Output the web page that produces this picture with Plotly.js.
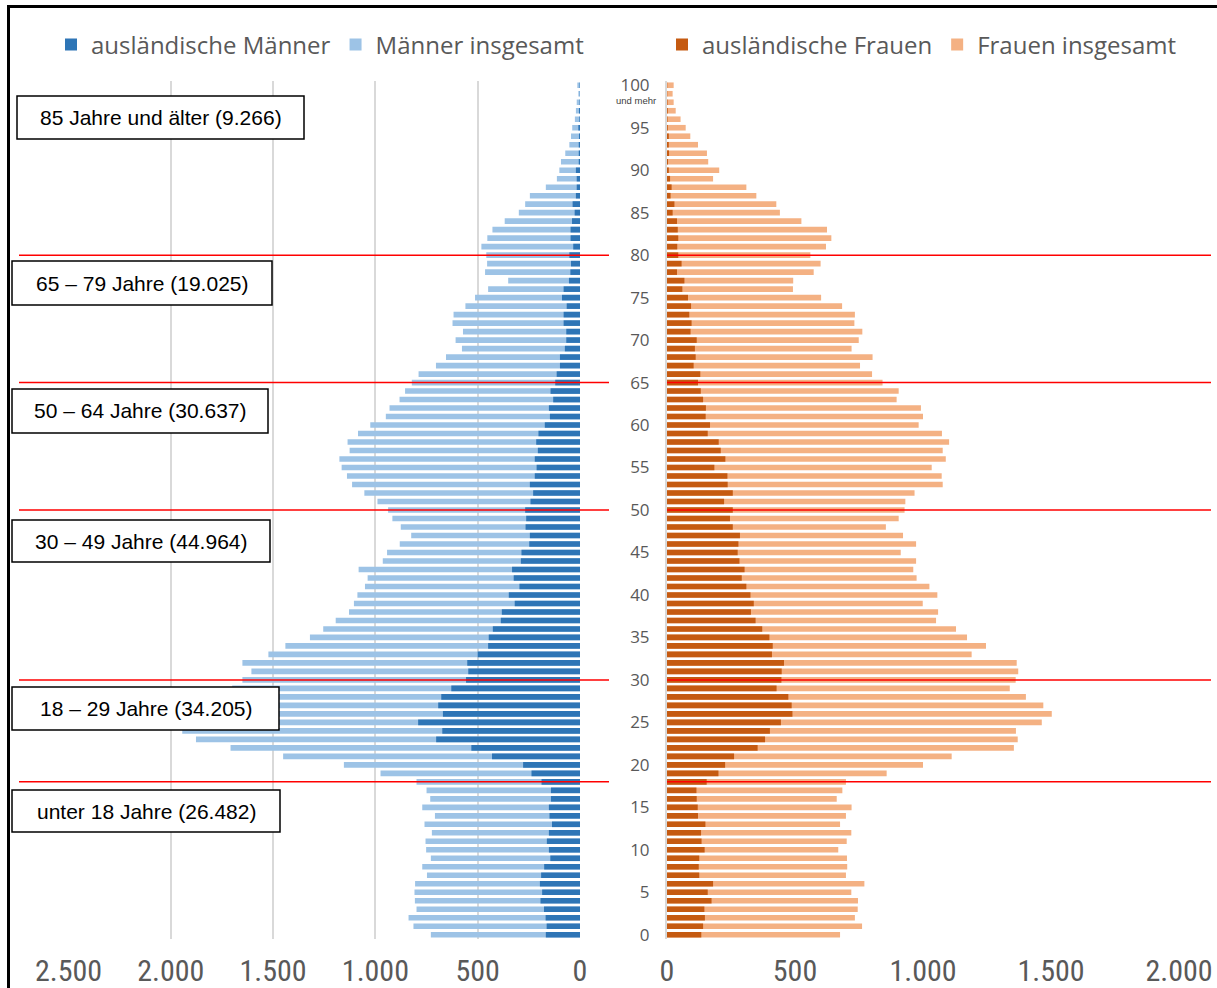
<!DOCTYPE html>
<html>
<head>
<meta charset="utf-8">
<script src="https://cdn.plot.ly/plotly-3.0.1.min.js"></script>
<style>html,body{margin:0;padding:0;background:#fff;} #chart{width:1217px;height:988px;}</style>
</head>
<body>
<div id="chart"></div>
<script>
// Ages 0 .. 100 (100 = "100 und mehr")
const ages = Array.from({length: 101}, (_, i) => i);

// Values indexed by age 0..100
const menTotal = [729,814,838,799,807,809,806,748,771,729,752,755,724,760,709,771,732,750,799,975,
  1154,1451,1708,1877,1944,1990,1990,1890,1790,1700,1650,1606,1650,1523,1440,1320,1255,1194,1129,1105,
  1088,1051,1038,1082,964,943,881,825,876,917,938,990,1054,1114,1139,1165,1176,1126,1136,1085,
  1025,949,931,882,855,822,789,704,655,577,608,572,623,618,560,513,449,351,464,454,
  458,482,453,428,368,299,268,245,167,113,101,93,72,52,44,38,25,20,16,8,13];
const menForeign = [167,163,168,176,193,185,196,190,175,145,152,162,152,137,149,152,142,142,188,237,
  278,430,531,703,673,791,670,693,678,629,557,546,551,500,449,446,426,387,382,319,
  348,296,324,332,289,286,248,245,266,263,268,242,229,245,221,212,221,206,214,203,
  172,147,152,131,144,121,114,98,98,74,67,67,80,80,65,88,80,54,47,44,
  52,33,46,46,39,26,36,20,16,16,20,6,6,6,5,8,3,5,2,1,2];
const womenTotal = [676,762,734,745,746,720,771,699,704,703,669,702,720,676,699,721,663,685,699,858,
  1000,1112,1355,1370,1363,1464,1503,1470,1402,1339,1362,1372,1366,1190,1246,1172,1129,1051,1059,999,
  1056,1025,975,962,973,913,973,922,855,905,928,931,967,1077,1073,1034,1089,1077,1102,1074,
  983,1000,992,897,905,842,801,754,803,721,749,763,732,734,684,602,492,493,573,600,
  560,621,642,625,525,441,427,349,310,180,204,161,156,121,91,73,53,34,26,22,26];
const womenForeign = [134,141,148,146,174,159,180,126,124,126,147,135,133,150,121,120,116,115,155,201,
  227,262,354,383,402,445,490,487,474,428,447,448,457,410,413,400,372,346,328,339,
  326,310,292,303,283,276,279,285,257,246,257,223,257,237,236,185,228,210,202,159,
  168,151,152,141,132,121,130,104,112,109,116,92,96,87,94,82,60,68,39,57,
  44,40,44,42,39,22,29,14,18,12,7,4,8,7,7,3,2,3,2,1,1];

const menTickVals = [0, 500, 1000, 1500, 2000, 2500];
const womenTickVals = [0, 500, 1000, 1500, 2000];
const ageTickVals = [0,5,10,15,20,25,30,35,40,45,50,55,60,65,70,75,80,85,90,95,100];

// Age-group boxes and boundaries
const groupLabels = ["85 Jahre und älter (9.266)", "65 – 79 Jahre (19.025)", "50 – 64 Jahre (30.637)",
  "30 – 49 Jahre (44.964)", "18 – 29 Jahre (34.205)", "unter 18 Jahre (26.482)"];
const boundaryAges = [80, 65, 50, 30, 18];

// ---- layout geometry (pixels) ----
const W = 1217, H = 988, T = 81, B = 49;
const PH = H - T - B;
const px = v => v / W;
const py = v => (H - B - v) / PH;
const boxes = [[17,96,304,139],[12,261,272,305],[12,389,268,433],[12,520,270,562],[12,687,279,730],[12,790,280,832]];

const barW = 0.66;
const grey = '#595959';

const traces = [
  {type:'bar', orientation:'h', name:'Männer insgesamt', x:menTotal, y:ages, xaxis:'x', yaxis:'y',
   marker:{color:'#9DC3E6'}, width:barW, legend:'legend', legendrank:2, hoverinfo:'x+y'},
  {type:'bar', orientation:'h', name:'ausländische Männer', x:menForeign, y:ages, xaxis:'x', yaxis:'y',
   marker:{color:'#2E75B6'}, width:barW, legend:'legend', legendrank:1, hoverinfo:'x+y'},
  {type:'bar', orientation:'h', name:'Frauen insgesamt', x:womenTotal, y:ages, xaxis:'x2', yaxis:'y2',
   marker:{color:'#F4B183'}, width:barW, legend:'legend2', legendrank:2, hoverinfo:'x+y'},
  {type:'bar', orientation:'h', name:'ausländische Frauen', x:womenForeign, y:ages, xaxis:'x2', yaxis:'y2',
   marker:{color:'#C55A11'}, width:barW, legend:'legend2', legendrank:1, hoverinfo:'x+y'}
];

const shapes = [];
const annotations = [];

// frame lines
shapes.push({type:'line', xref:'paper', yref:'paper', x0:px(8.5), x1:px(8.5), y0:py(6), y1:py(H), line:{color:'#000', width:3}, layer:'above'});
shapes.push({type:'line', xref:'paper', yref:'paper', x0:px(7), x1:px(W), y0:py(6.5), y1:py(6.5), line:{color:'#000', width:3}, layer:'above'});

// red boundary lines
boundaryAges.forEach(a => {
  shapes.push({type:'line', xref:'paper', yref:'y', x0:px(19), x1:px(609), y0:a, y1:a, line:{color:'#FF0000', width:1.5}, layer:'above'});
  shapes.push({type:'line', xref:'paper', yref:'y2', x0:px(667), x1:px(1211), y0:a, y1:a, line:{color:'#FF0000', width:1.5}, layer:'above'});
});

// label boxes
boxes.forEach((b, i) => {
  shapes.push({type:'rect', xref:'paper', yref:'paper', x0:px(b[0]), x1:px(b[2]), y0:py(b[3]), y1:py(b[1]),
    fillcolor:'#FFFFFF', line:{color:'#000', width:1.5}, layer:'above'});
  annotations.push({xref:'paper', yref:'paper', x:px((b[0]+b[2])/2), y:py((b[1]+b[3])/2), xanchor:'center', yanchor:'middle',
    text:groupLabels[i], showarrow:false, font:{family:'Liberation Sans, Arial, sans-serif', size:21, color:'#000'}});
});

annotations.push({xref:'paper', yref:'paper', x:px(636), y:py(101), xanchor:'center', yanchor:'middle',
  text:'und mehr', showarrow:false, font:{family:'Liberation Sans, Arial, sans-serif', size:9.5, color:'#404040'}});

const tickFont = {family:'Liberation Sans Narrow, Roboto Condensed, Liberation Sans, sans-serif', size:30, color:grey};

const layout = {
  width: W, height: H,
  margin: {l:0, r:0, t:T, b:B, pad:0},
  paper_bgcolor:'#fff', plot_bgcolor:'rgba(0,0,0,0)',
  separators: ',.',
  barmode: 'overlay',
  bargap: 0.34,
  font: {family:'Open Sans, sans-serif', color:grey},
  xaxis: {domain:[px(68.5), px(580)], range:[2500, 0], tickvals:menTickVals, separatethousands:true,
    showgrid:true, gridcolor:'#D9D9D9', gridwidth:2, zeroline:false, showline:false, ticks:'',
    tickfont:tickFont, ticklabelstandoff:11, anchor:'y', fixedrange:true},
  yaxis: {domain:[0,1], range:[-0.5, 100.5], showticklabels:false, showgrid:false, zeroline:false, anchor:'x', fixedrange:true},
  xaxis2: {domain:[px(667), px(1179)], range:[0, 2000], tickvals:womenTickVals, separatethousands:true,
    showgrid:false, zeroline:false, showline:false, ticks:'', tickfont:tickFont, ticklabelstandoff:11, anchor:'y2', fixedrange:true},
  yaxis2: {domain:[0,1], range:[-0.5, 100.5], tickvals:ageTickVals, showgrid:false, zeroline:false,
    showline:true, linecolor:'#D9D9D9', linewidth:2, ticks:'', ticklabelstandoff:12,
    tickfont:{family:'Open Sans, sans-serif', size:17, color:grey}, anchor:'x2', fixedrange:true},
  showlegend: true,
  legend: {orientation:'h', x:px(51), xanchor:'left', y:py(45), yanchor:'middle', font:{size:24, color:grey, family:'Open Sans, sans-serif'},
    bgcolor:'rgba(0,0,0,0)', itemwidth:30, traceorder:'normal'},
  legend2: {orientation:'h', x:px(662), xanchor:'left', y:py(45), yanchor:'middle', font:{size:24, color:grey, family:'Open Sans, sans-serif'},
    bgcolor:'rgba(0,0,0,0)', itemwidth:30, traceorder:'normal'},
  shapes: shapes,
  annotations: annotations
};

Plotly.newPlot('chart', traces, layout, {displayModeBar:false, staticPlot:true});
</script>
</body>
</html>
